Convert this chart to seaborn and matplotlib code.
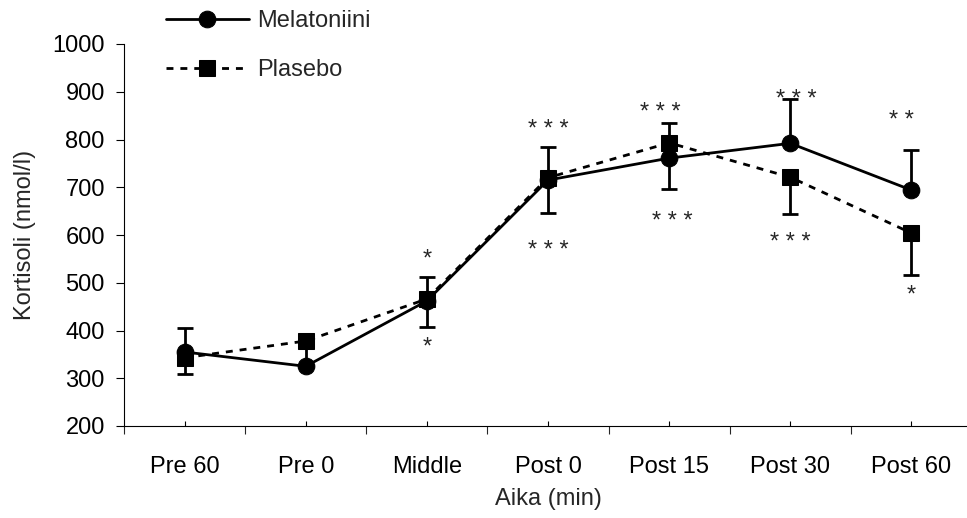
import matplotlib
matplotlib.use("Agg")
import matplotlib.pyplot as plt
import seaborn as sns

# data
times = ["Pre 60", "Pre 0", "Middle", "Post 0", "Post 15", "Post 30", "Post 60"]
melatoniini = [355, 325, 462, 715, 761, 792, 694]
plasebo = [343, 378, 466, 720, 793, 721, 604]

# one-sided error bars (upper / lower) as drawn in the original
mel_err_up = [50, 45, 51, 69, 0, 92, 85]
mel_err_down = [0, 0, 0, 0, 65, 0, 0]
pla_err_up = [0, 0, 0, 0, 42, 0, 0]
pla_err_down = [34, 0, 58, 74, 0, 77, 87]

# significance marks
star_pos = [2, 2, 3, 3, 4, 4, 5, 5, 6, 6]
star_text = ["*", "*", "* * *", "* * *", "* * *", "* * *", "* * *", "* * *", "* *", "*"]
star_y = [566, 380, 837, 583, 872, 644, 900, 600, 855, 489]
star_dx = [0, 0, 0, 0, -6, 2, 4, 0, -7, 0]

sns.set_style("ticks")
plt.rcParams["font.family"] = ["Liberation Sans", "DejaVu Sans"]
FS = 17

fig = plt.figure(figsize=(9.67, 5.18), dpi=100)
ax = fig.add_axes([124 / 967, (518 - 426) / 518, (972 - 124) / 967, (426 - 44) / 518])

x_idx = list(range(len(times)))
LW = 2.0

ax.errorbar(x_idx, melatoniini, yerr=[mel_err_down, mel_err_up], fmt="none",
            ecolor="black", elinewidth=LW, capsize=6, capthick=LW, zorder=1.5)
ax.errorbar(x_idx, plasebo, yerr=[pla_err_down, pla_err_up], fmt="none",
            ecolor="black", elinewidth=LW, capsize=6, capthick=LW, zorder=1.5)

sns.lineplot(x=x_idx, y=melatoniini, color="black", marker="o", markersize=12,
             markeredgecolor="black", linewidth=LW, label="Melatoniini",
             sort=False, ax=ax, zorder=3)
sns.lineplot(x=x_idx, y=plasebo, color="black", marker="s", markersize=11,
             markeredgecolor="black", linewidth=LW, linestyle=(0, (2.5, 2.5)),
             label="Plasebo", sort=False, ax=ax, zorder=2.5)

for xp, txt, yp, dx in zip(star_pos, star_text, star_y, star_dx):
    ax.annotate(txt, (xp, yp), xytext=(dx, -10), textcoords="offset points",
                ha="center", va="baseline", fontsize=FS)

ax.set_xlim(-0.5, 6.5)
ax.set_ylim(200, 1000)
ax.set_yticks(range(200, 1001, 100))
ax.set_xticks(x_idx)
ax.set_xticklabels(times)
ax.set_xticks([i - 0.5 for i in range(len(times) + 1)], minor=True)

ax.tick_params(axis="x", which="major", direction="in", length=3.6, width=0.8,
               pad=21.5, labelsize=FS, colors="black")
ax.tick_params(axis="x", which="minor", direction="out", length=5.8, width=0.8)
ax.tick_params(axis="y", which="major", direction="out", length=5.8, width=0.8,
               pad=8, labelsize=FS, colors="black")

for side in ["top", "right"]:
    ax.spines[side].set_visible(False)
for side in ["left", "bottom"]:
    ax.spines[side].set_linewidth(0.8)
    ax.spines[side].set_color("black")

ax.set_xlabel("Aika (min)", fontsize=FS, labelpad=7)
ax.set_ylabel("Kortisoli (nmol/l)", fontsize=FS, labelpad=12)

handles, labels = ax.get_legend_handles_labels()
ax.get_legend().remove()
fig.legend(handles, labels, loc="upper left", bbox_to_anchor=(166 / 967, 1 - 10 / 518),
           frameon=False, fontsize=FS, handlelength=3.5, handletextpad=0.35,
           labelspacing=1.15, borderaxespad=0, borderpad=0)

fig.savefig("out.png", dpi=100)
